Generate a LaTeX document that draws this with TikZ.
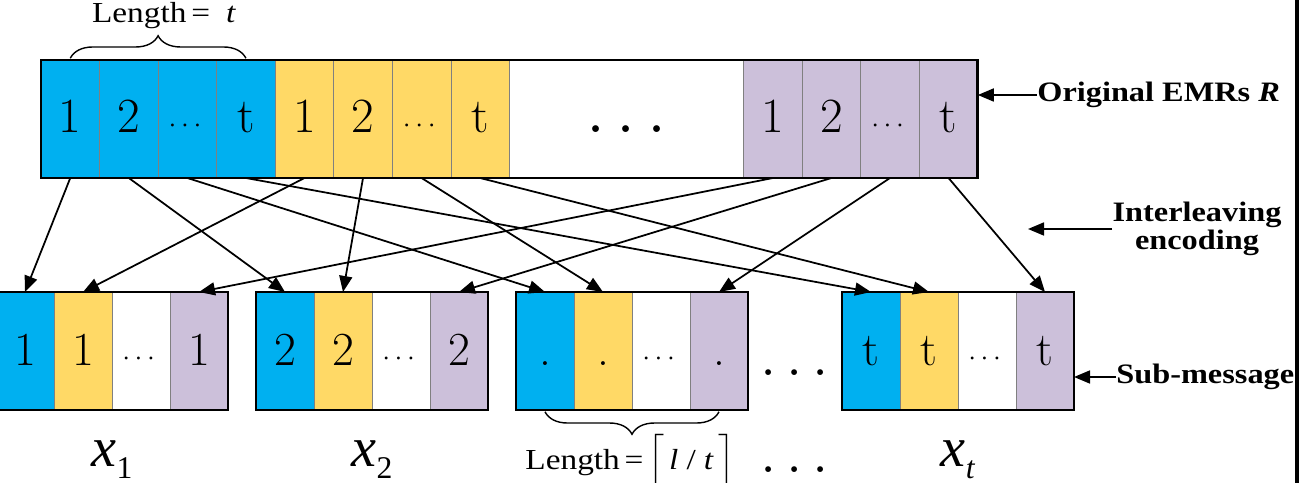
\documentclass[tikz,border=0pt]{standalone}
\usepackage{fix-cm}
\usepackage{fontspec}
\usepackage{amsmath}
\usetikzlibrary{arrows.meta,positioning,calc,decorations.pathreplacing}
\newfontfamily\labelfont{Liberation Serif}[FakeStretch=1.15]
\newfontfamily\symfont{Liberation Serif}
\definecolor{emrblue}{RGB}{0,176,240}
\definecolor{emryellow}{RGB}{255,217,102}
\definecolor{emrpurple}{RGB}{204,192,218}
\newcommand{\celldots}{{\fontsize{16}{16}\selectfont$\cdots$}}
\newcommand{\lowsub}[1]{\raisebox{-7pt}{\fontsize{18}{18}\selectfont #1}}

\begin{document}
\begin{tikzpicture}[
  x=0.2mm, y=-0.2mm,
  cell/.style={draw=black!50, line width=0.4pt, minimum width=1.171cm, minimum height=2.36cm, inner sep=0pt, outer sep=0pt, text height=0.65cm, text depth=0.09cm, font=\fontsize{28}{30}\selectfont},
  subcell/.style={cell, minimum width=1.16cm, font=\fontsize{27}{29}\selectfont},
  boxline/.style={line width=1.6pt},
  link/.style={-{Triangle[length=0.32cm,width=0.26cm]}, line width=1pt},
  brace/.style={decorate, decoration={brace, amplitude=0.45cm}, line width=0.8pt},
  lenlabel/.style={font=\labelfont\fontsize{16.5}{18}\selectfont, inner sep=0pt},
  xlabel/.style={font=\symfont\fontsize{32}{34}\selectfont, inner sep=0pt, anchor=base},
  bigdots/.style={font=\fontsize{34}{36}\selectfont, inner sep=0pt, anchor=base},
  tag/.style={font=\labelfont\bfseries\fontsize{16}{16}\selectfont, inner sep=0pt, align=center}
]
  \useasboundingbox (0,0) rectangle (1300,483);

  % original EMRs R
  \node[cell, fill=emrblue, anchor=north west] (b1) at (41,60) {1};
  \node[cell, fill=emrblue, right=0pt of b1] (b2) {2};
  \node[cell, fill=emrblue, right=0pt of b2] (b3) {\celldots};
  \node[cell, fill=emrblue, right=0pt of b3] (b4) {t};
  \node[cell, fill=emryellow, right=0pt of b4] (y1) {1};
  \node[cell, fill=emryellow, right=0pt of y1] (y2) {2};
  \node[cell, fill=emryellow, right=0pt of y2] (y3) {\celldots};
  \node[cell, fill=emryellow, right=0pt of y3] (y4) {t};
  \node[cell, minimum width=4.684cm, font=\fontsize{40}{42}\selectfont, right=0pt of y4] (w) {$\ldots$};
  \node[cell, fill=emrpurple, right=0pt of w] (p1) {1};
  \node[cell, fill=emrpurple, right=0pt of p1] (p2) {2};
  \node[cell, fill=emrpurple, right=0pt of p2] (p3) {\celldots};
  \node[cell, fill=emrpurple, right=0pt of p3] (p4) {t};
  \draw[boxline] (b1.north west) rectangle (p4.south east);

  \draw[brace] ([yshift=1pt]b1.north) -- ([yshift=1pt]b4.north);
  \node[lenlabel] (lentop) at ($(b1.north)!0.5!(b4.north)+(6,-44)$) {Length\,=\;\;\textit{t}};

  % sub-messages
  \foreach \i/\x/\d in {1/-4/1, 2/256/2, 3/516/., 4/842/t} {
    \node[subcell, fill=emrblue, anchor=north west] (m\i1) at (\x,292) {\d};
    \node[subcell, fill=emryellow, right=0pt of m\i1] (m\i2) {\d};
    \node[subcell, right=0pt of m\i2] (m\i3) {\celldots};
    \node[subcell, fill=emrpurple, right=0pt of m\i3] (m\i4) {\d};
    \draw[boxline] (m\i1.north west) rectangle (m\i4.south east);
  }

  % interleaving
  \foreach \k in {1,...,4} {
    \draw[link] (b\k.south) -- (m\k1.north);
    \draw[link] (y\k.south) -- (m\k2.north);
    \draw[link] (p\k.south) -- (m\k4.north);
  }

  \draw[brace] ([yshift=-1pt]m34.south) -- ([yshift=-1pt]m31.south);
  \node[lenlabel] (lenbot) at ($(m31.south)!0.5!(m34.south)+(-2,52)$) {Length\,=\,$\Bigl\lceil$\,\textit{l}\;/\;\textit{t}\,$\Bigr\rceil$};

  \node[xlabel] (x1) at ($(m12.south)!0.5!(m13.south)+(0,56)$) {\textit{x}\lowsub{1}};
  \node[xlabel] (x2) at ($(m22.south)!0.5!(m23.south)+(0,56)$) {\textit{x}\lowsub{2}};
  \node[xlabel] (xt) at ($(m42.south)!0.5!(m43.south)+(0,56)$) {\textit{x}\lowsub{\textit{t}}};
  \node[bigdots] (gapdots) at ($(m34.east)!0.5!(m41.west)+(0,25)$) {$\ldots$};
  \node[bigdots] (lowdots) at ($(m34.east)!0.5!(m41.west)+(0,121)$) {$\ldots$};

  % side labels
  \node[tag, anchor=west] (orig) at (1037,95) {Original EMRs \textit{R}};
  \draw[link] (orig.west) -- (orig.west -| p4.east);
  \node[tag] (inter) at (1197,229) {Interleaving\\encoding};
  \coordinate (interend) at (1028,229);
  \draw[link] (inter.west) -- (interend);
  \node[tag, anchor=west] (sub) at (1116,377) {Sub-message};
  \draw[link] (sub.west) -- (sub.west -| m44.east);

  \draw[line width=2.6pt] (1297,0) -- (1297,483);
\end{tikzpicture}
\end{document}
